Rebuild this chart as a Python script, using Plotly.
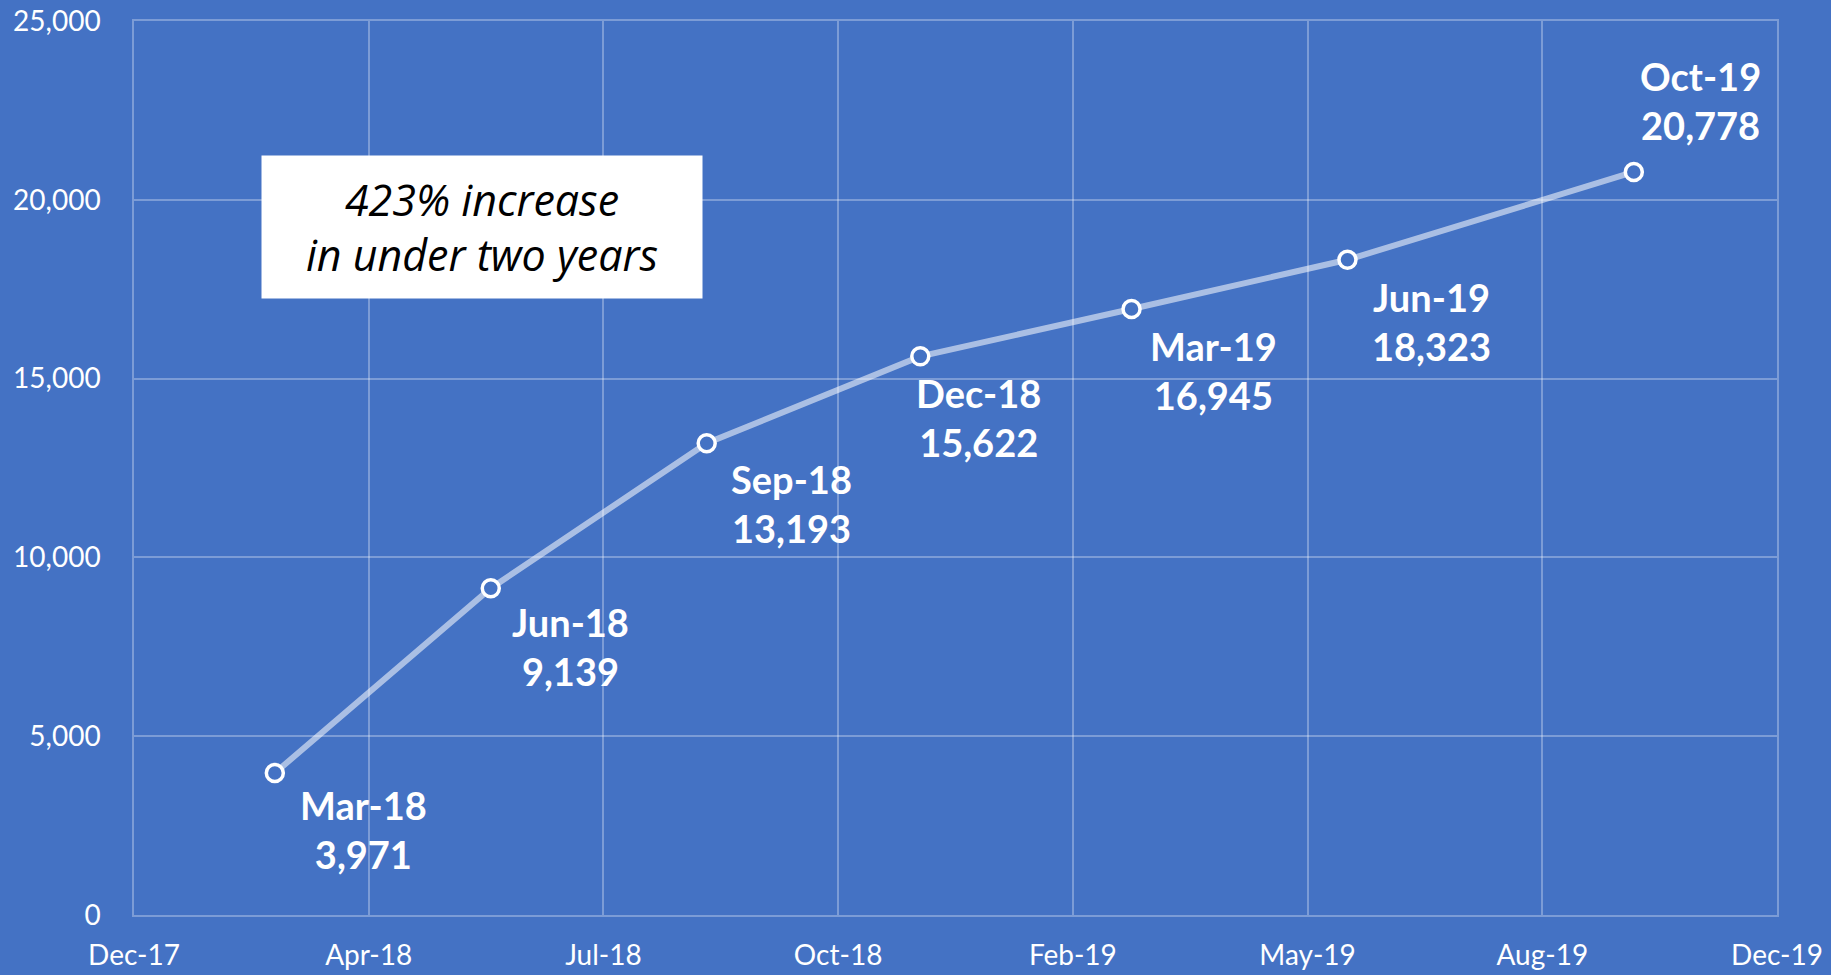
import pandas as pd
import plotly.graph_objects as go

# ---- data ----
dates = ["2018-03-01", "2018-06-01", "2018-09-01", "2018-12-01",
         "2019-03-01", "2019-06-01", "2019-10-01"]
values = [3971, 9139, 13193, 15622, 16945, 18323, 20778]
callout_text = "423% increase<br>in under two years"

# axis settings (Excel-style date axis: min 31-Dec-2017, major unit 100 days)
x_min = "2017-12-31"
x_max = "2019-12-01"
tick_dates = pd.date_range(x_min, x_max, freq="100D")
y_ticks = [0, 5000, 10000, 15000, 20000, 25000]

# label offsets in pixels (x, y) relative to each point
label_offsets = [(89, -56), (80, -58), (85, -60), (58, -61), (82, -61), (84, -62), (67, 71)]

BG = "#4472C4"
FONT = "Lato, Liberation Sans, sans-serif"

fig = go.Figure()
fig.add_trace(go.Scatter(
    x=pd.to_datetime(dates), y=values, mode="lines+markers",
    line=dict(color="rgba(255,255,255,0.55)", width=6),
    marker=dict(size=17, color=BG, line=dict(color="white", width=3.5)),
    hoverinfo="skip", showlegend=False,
))

for d, v, (dx, dy) in zip(pd.to_datetime(dates), values, label_offsets):
    fig.add_annotation(
        x=d, y=v, xref="x", yref="y",
        text=f"<b>{d.strftime('%b-%y')}<br>{v:,}</b>",
        showarrow=False, xshift=dx, yshift=dy,
        font=dict(family=FONT, size=38, color="white"),
        align="center",
    )

fig.add_annotation(
    xref="paper", yref="paper", x=0.2118, y=0.7696,
    text=f"<i>{callout_text}</i>", showarrow=False,
    bgcolor="white", width=438, height=140,
    font=dict(family="Open Sans, sans-serif", size=43, color="black"),
    align="center", xanchor="center", yanchor="middle",
)

fig.update_layout(
    width=1831, height=975,
    paper_bgcolor=BG, plot_bgcolor=BG,
    margin=dict(l=134, r=54, t=21, b=60, autoexpand=False),
    font=dict(family=FONT, color="white", size=28),
)
fig.update_xaxes(
    type="date", range=[x_min, x_max], automargin=False,
    tickvals=tick_dates, tickformat="%b-%y",
    showgrid=True, gridcolor="rgba(255,255,255,0.3)", gridwidth=1.5,
    showline=True, linecolor="rgba(255,255,255,0.3)", linewidth=1.5, mirror=True,
    zeroline=False, ticklabelstandoff=15,
    tickfont=dict(family=FONT, size=28, color="white"),
)
fig.update_yaxes(
    range=[0, 25000], tickvals=y_ticks, tickformat=",", automargin=False,
    showgrid=True, gridcolor="rgba(255,255,255,0.3)", gridwidth=1.5,
    showline=True, linecolor="rgba(255,255,255,0.3)", linewidth=1.5, mirror=True,
    zeroline=False, ticklabelstandoff=26,
    tickfont=dict(family=FONT, size=28, color="white"),
)

fig.write_html("out.html")
